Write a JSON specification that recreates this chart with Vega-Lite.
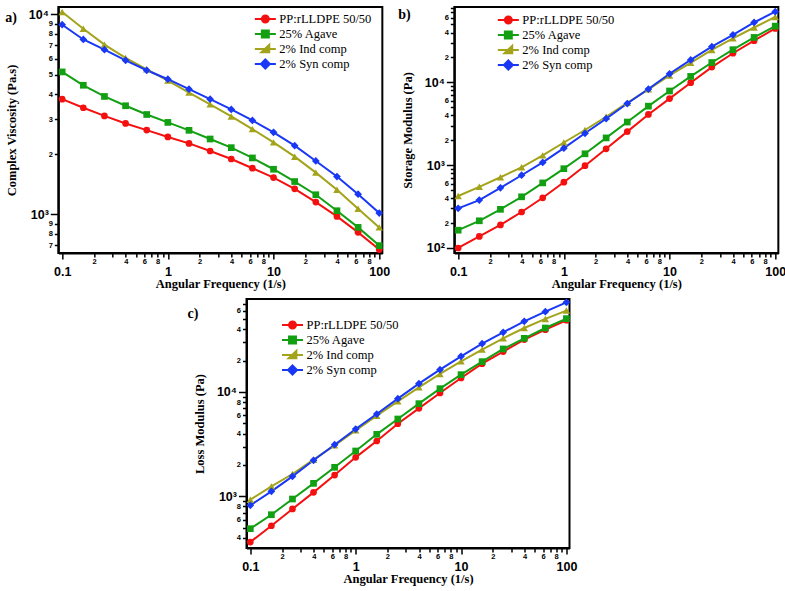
{
  "$schema": "https://vega.github.io/schema/vega-lite/v6.json",
  "padding": {"left": 4, "top": 2, "right": 0, "bottom": 3},
  "background": "white",
  "config": {
    "view": {"stroke": "black", "strokeWidth": 2},
    "axis": {
      "grid": false,
      "domainColor": "black",
      "domainWidth": 2,
      "tickColor": "black",
      "tickWidth": 1.5,
      "labelColor": "black",
      "labelFont": "Liberation Sans",
      "labelFontWeight": "bold",
      "titleFont": "Liberation Serif",
      "titleFontWeight": "bold",
      "titleFontSize": 12.5,
      "titleColor": "black"
    },
    "legend": {
      "orient": "none",
      "title": null,
      "labelFont": "Liberation Serif",
      "labelFontSize": 12.5,
      "labelColor": "black",
      "symbolSize": 144,
      "symbolStrokeWidth": 2,
      "labelOffset": 7,
      "rowPadding": -2,
      "padding": 0
    },
    "title": {
      "font": "Liberation Serif",
      "fontSize": 14,
      "fontWeight": "bold",
      "color": "black",
      "anchor": "start",
      "frame": "bounds",
      "offset": 0
    }
  },
  "datasets": {
    "visc": [
      {"w": 0.1, "s": "PP:rLLDPE 50/50", "v": 3770}, {"w": 0.1585, "s": "PP:rLLDPE 50/50", "v": 3415}, {"w": 0.2512, "s": "PP:rLLDPE 50/50", "v": 3110}, {"w": 0.3981, "s": "PP:rLLDPE 50/50", "v": 2850}, {"w": 0.631, "s": "PP:rLLDPE 50/50", "v": 2640}, {"w": 1, "s": "PP:rLLDPE 50/50", "v": 2440}, {"w": 1.585, "s": "PP:rLLDPE 50/50", "v": 2265}, {"w": 2.512, "s": "PP:rLLDPE 50/50", "v": 2075}, {"w": 3.981, "s": "PP:rLLDPE 50/50", "v": 1893}, {"w": 6.31, "s": "PP:rLLDPE 50/50", "v": 1702}, {"w": 10, "s": "PP:rLLDPE 50/50", "v": 1528}, {"w": 15.85, "s": "PP:rLLDPE 50/50", "v": 1342}, {"w": 25.12, "s": "PP:rLLDPE 50/50", "v": 1152}, {"w": 39.81, "s": "PP:rLLDPE 50/50", "v": 977}, {"w": 63.1, "s": "PP:rLLDPE 50/50", "v": 813}, {"w": 100, "s": "PP:rLLDPE 50/50", "v": 667},
      {"w": 0.1, "s": "25% Agave", "v": 5160}, {"w": 0.1585, "s": "25% Agave", "v": 4425}, {"w": 0.2512, "s": "25% Agave", "v": 3890}, {"w": 0.3981, "s": "25% Agave", "v": 3495}, {"w": 0.631, "s": "25% Agave", "v": 3160}, {"w": 1, "s": "25% Agave", "v": 2885}, {"w": 1.585, "s": "25% Agave", "v": 2633}, {"w": 2.512, "s": "25% Agave", "v": 2383}, {"w": 3.981, "s": "25% Agave", "v": 2157}, {"w": 6.31, "s": "25% Agave", "v": 1916}, {"w": 10, "s": "25% Agave", "v": 1682}, {"w": 15.85, "s": "25% Agave", "v": 1460}, {"w": 25.12, "s": "25% Agave", "v": 1254}, {"w": 39.81, "s": "25% Agave", "v": 1043}, {"w": 63.1, "s": "25% Agave", "v": 861}, {"w": 100, "s": "25% Agave", "v": 698},
      {"w": 0.1, "s": "2% Ind comp", "v": 10280}, {"w": 0.1585, "s": "2% Ind comp", "v": 8490}, {"w": 0.2512, "s": "2% Ind comp", "v": 7065}, {"w": 0.3981, "s": "2% Ind comp", "v": 6060}, {"w": 0.631, "s": "2% Ind comp", "v": 5320}, {"w": 1, "s": "2% Ind comp", "v": 4670}, {"w": 1.585, "s": "2% Ind comp", "v": 4070}, {"w": 2.512, "s": "2% Ind comp", "v": 3550}, {"w": 3.981, "s": "2% Ind comp", "v": 3090}, {"w": 6.31, "s": "2% Ind comp", "v": 2670}, {"w": 10, "s": "2% Ind comp", "v": 2293}, {"w": 15.85, "s": "2% Ind comp", "v": 1944}, {"w": 25.12, "s": "2% Ind comp", "v": 1618}, {"w": 39.81, "s": "2% Ind comp", "v": 1327}, {"w": 63.1, "s": "2% Ind comp", "v": 1067}, {"w": 100, "s": "2% Ind comp", "v": 861},
      {"w": 0.1, "s": "2% Syn comp", "v": 8890}, {"w": 0.1585, "s": "2% Syn comp", "v": 7500}, {"w": 0.2512, "s": "2% Syn comp", "v": 6665}, {"w": 0.3981, "s": "2% Syn comp", "v": 5900}, {"w": 0.631, "s": "2% Syn comp", "v": 5260}, {"w": 1, "s": "2% Syn comp", "v": 4745}, {"w": 1.585, "s": "2% Syn comp", "v": 4230}, {"w": 2.512, "s": "2% Syn comp", "v": 3770}, {"w": 3.981, "s": "2% Syn comp", "v": 3350}, {"w": 6.31, "s": "2% Syn comp", "v": 2950}, {"w": 10, "s": "2% Syn comp", "v": 2572}, {"w": 15.85, "s": "2% Syn comp", "v": 2206}, {"w": 25.12, "s": "2% Syn comp", "v": 1850}, {"w": 39.81, "s": "2% Syn comp", "v": 1546}, {"w": 63.1, "s": "2% Syn comp", "v": 1262}, {"w": 100, "s": "2% Syn comp", "v": 1015}
    ],
    "stor": [
      {"w": 0.1, "s": "PP:rLLDPE 50/50", "v": 100}, {"w": 0.1585, "s": "PP:rLLDPE 50/50", "v": 138}, {"w": 0.2512, "s": "PP:rLLDPE 50/50", "v": 190}, {"w": 0.3981, "s": "PP:rLLDPE 50/50", "v": 272}, {"w": 0.631, "s": "PP:rLLDPE 50/50", "v": 404}, {"w": 1, "s": "PP:rLLDPE 50/50", "v": 623}, {"w": 1.585, "s": "PP:rLLDPE 50/50", "v": 986}, {"w": 2.512, "s": "PP:rLLDPE 50/50", "v": 1577}, {"w": 3.981, "s": "PP:rLLDPE 50/50", "v": 2543}, {"w": 6.31, "s": "PP:rLLDPE 50/50", "v": 4100}, {"w": 10, "s": "PP:rLLDPE 50/50", "v": 6370}, {"w": 15.85, "s": "PP:rLLDPE 50/50", "v": 9910}, {"w": 25.12, "s": "PP:rLLDPE 50/50", "v": 15280}, {"w": 39.81, "s": "PP:rLLDPE 50/50", "v": 22480}, {"w": 63.1, "s": "PP:rLLDPE 50/50", "v": 31860}, {"w": 100, "s": "PP:rLLDPE 50/50", "v": 44760},
      {"w": 0.1, "s": "25% Agave", "v": 164}, {"w": 0.1585, "s": "25% Agave", "v": 213}, {"w": 0.2512, "s": "25% Agave", "v": 293}, {"w": 0.3981, "s": "25% Agave", "v": 415}, {"w": 0.631, "s": "25% Agave", "v": 611}, {"w": 1, "s": "25% Agave", "v": 907}, {"w": 1.585, "s": "25% Agave", "v": 1373}, {"w": 2.512, "s": "25% Agave", "v": 2134}, {"w": 3.981, "s": "25% Agave", "v": 3318}, {"w": 6.31, "s": "25% Agave", "v": 5160}, {"w": 10, "s": "25% Agave", "v": 7870}, {"w": 15.85, "s": "25% Agave", "v": 11800}, {"w": 25.12, "s": "25% Agave", "v": 17380}, {"w": 39.81, "s": "25% Agave", "v": 24830}, {"w": 63.1, "s": "25% Agave", "v": 34890}, {"w": 100, "s": "25% Agave", "v": 47750},
      {"w": 0.1, "s": "2% Ind comp", "v": 424}, {"w": 0.1585, "s": "2% Ind comp", "v": 548}, {"w": 0.2512, "s": "2% Ind comp", "v": 715}, {"w": 0.3981, "s": "2% Ind comp", "v": 942}, {"w": 0.631, "s": "2% Ind comp", "v": 1312}, {"w": 1, "s": "2% Ind comp", "v": 1878}, {"w": 1.585, "s": "2% Ind comp", "v": 2660}, {"w": 2.512, "s": "2% Ind comp", "v": 3845}, {"w": 3.981, "s": "2% Ind comp", "v": 5653}, {"w": 6.31, "s": "2% Ind comp", "v": 8240}, {"w": 10, "s": "2% Ind comp", "v": 12130}, {"w": 15.85, "s": "2% Ind comp", "v": 17190}, {"w": 25.12, "s": "2% Ind comp", "v": 24610}, {"w": 39.81, "s": "2% Ind comp", "v": 33950}, {"w": 63.1, "s": "2% Ind comp", "v": 45990}, {"w": 100, "s": "2% Ind comp", "v": 61650},
      {"w": 0.1, "s": "2% Syn comp", "v": 301}, {"w": 0.1585, "s": "2% Syn comp", "v": 379}, {"w": 0.2512, "s": "2% Syn comp", "v": 533}, {"w": 0.3981, "s": "2% Syn comp", "v": 756}, {"w": 0.631, "s": "2% Syn comp", "v": 1081}, {"w": 1, "s": "2% Syn comp", "v": 1606}, {"w": 1.585, "s": "2% Syn comp", "v": 2428}, {"w": 2.512, "s": "2% Syn comp", "v": 3637}, {"w": 3.981, "s": "2% Syn comp", "v": 5553}, {"w": 6.31, "s": "2% Syn comp", "v": 8315}, {"w": 10, "s": "2% Syn comp", "v": 12700}, {"w": 15.85, "s": "2% Syn comp", "v": 18680}, {"w": 25.12, "s": "2% Syn comp", "v": 26970}, {"w": 39.81, "s": "2% Syn comp", "v": 37560}, {"w": 63.1, "s": "2% Syn comp", "v": 52840}, {"w": 100, "s": "2% Syn comp", "v": 71450}
    ],
    "loss": [
      {"w": 0.1, "s": "PP:rLLDPE 50/50", "v": 365}, {"w": 0.1585, "s": "PP:rLLDPE 50/50", "v": 523}, {"w": 0.2512, "s": "PP:rLLDPE 50/50", "v": 757}, {"w": 0.3981, "s": "PP:rLLDPE 50/50", "v": 1092}, {"w": 0.631, "s": "PP:rLLDPE 50/50", "v": 1600}, {"w": 1, "s": "PP:rLLDPE 50/50", "v": 2364}, {"w": 1.585, "s": "PP:rLLDPE 50/50", "v": 3390}, {"w": 2.512, "s": "PP:rLLDPE 50/50", "v": 4970}, {"w": 3.981, "s": "PP:rLLDPE 50/50", "v": 6970}, {"w": 6.31, "s": "PP:rLLDPE 50/50", "v": 9780}, {"w": 10, "s": "PP:rLLDPE 50/50", "v": 13610}, {"w": 15.85, "s": "PP:rLLDPE 50/50", "v": 18690}, {"w": 25.12, "s": "PP:rLLDPE 50/50", "v": 24370}, {"w": 39.81, "s": "PP:rLLDPE 50/50", "v": 31760}, {"w": 63.1, "s": "PP:rLLDPE 50/50", "v": 39560}, {"w": 100, "s": "PP:rLLDPE 50/50", "v": 48670},
      {"w": 0.1, "s": "25% Agave", "v": 490}, {"w": 0.1585, "s": "25% Agave", "v": 667}, {"w": 0.2512, "s": "25% Agave", "v": 943}, {"w": 0.3981, "s": "25% Agave", "v": 1332}, {"w": 0.631, "s": "25% Agave", "v": 1898}, {"w": 1, "s": "25% Agave", "v": 2721}, {"w": 1.585, "s": "25% Agave", "v": 3930}, {"w": 2.512, "s": "25% Agave", "v": 5510}, {"w": 3.981, "s": "25% Agave", "v": 7730}, {"w": 6.31, "s": "25% Agave", "v": 10760}, {"w": 10, "s": "25% Agave", "v": 14660}, {"w": 15.85, "s": "25% Agave", "v": 19530}, {"w": 25.12, "s": "25% Agave", "v": 25840}, {"w": 39.81, "s": "25% Agave", "v": 32680}, {"w": 63.1, "s": "25% Agave", "v": 41030}, {"w": 100, "s": "25% Agave", "v": 50450},
      {"w": 0.1, "s": "2% Ind comp", "v": 929}, {"w": 0.1585, "s": "2% Ind comp", "v": 1247}, {"w": 0.2512, "s": "2% Ind comp", "v": 1637}, {"w": 0.3981, "s": "2% Ind comp", "v": 2246}, {"w": 0.631, "s": "2% Ind comp", "v": 3080}, {"w": 1, "s": "2% Ind comp", "v": 4290}, {"w": 1.585, "s": "2% Ind comp", "v": 5930}, {"w": 2.512, "s": "2% Ind comp", "v": 8140}, {"w": 3.981, "s": "2% Ind comp", "v": 11090}, {"w": 6.31, "s": "2% Ind comp", "v": 14890}, {"w": 10, "s": "2% Ind comp", "v": 19680}, {"w": 15.85, "s": "2% Ind comp", "v": 25470}, {"w": 25.12, "s": "2% Ind comp", "v": 32680}, {"w": 39.81, "s": "2% Ind comp", "v": 41030}, {"w": 63.1, "s": "2% Ind comp", "v": 50120}, {"w": 100, "s": "2% Ind comp", "v": 60260},
      {"w": 0.1, "s": "2% Syn comp", "v": 820}, {"w": 0.1585, "s": "2% Syn comp", "v": 1117}, {"w": 0.2512, "s": "2% Syn comp", "v": 1555}, {"w": 0.3981, "s": "2% Syn comp", "v": 2215}, {"w": 0.631, "s": "2% Syn comp", "v": 3127}, {"w": 1, "s": "2% Syn comp", "v": 4418}, {"w": 1.585, "s": "2% Syn comp", "v": 6150}, {"w": 2.512, "s": "2% Syn comp", "v": 8630}, {"w": 3.981, "s": "2% Syn comp", "v": 12020}, {"w": 6.31, "s": "2% Syn comp", "v": 16370}, {"w": 10, "s": "2% Syn comp", "v": 21970}, {"w": 15.85, "s": "2% Syn comp", "v": 29050}, {"w": 25.12, "s": "2% Syn comp", "v": 37330}, {"w": 39.81, "s": "2% Syn comp", "v": 47530}, {"w": 63.1, "s": "2% Syn comp", "v": 58880}, {"w": 100, "s": "2% Syn comp", "v": 72280}
    ]
  },
  "vconcat": [
    {
      "hconcat": [
        {
          "title": {"text": "a)", "dy": 22, "dx": 0},
          "width": 324, "height": 246,
          "data": {"name": "visc"},
          "encoding": {
            "x": {"field": "w", "type": "quantitative", "scale": {"type": "log", "domain": [0.092, 107], "nice": false},
              "axis": {"title": "Angular Frequency (1/s)", "values": [0.1,0.2,0.3,0.4,0.5,0.6,0.7,0.8,0.9,1,2,3,4,5,6,7,8,9,10,20,30,40,50,60,70,80,90,100],
                "labelExpr": "round(datum.value/pow(10,floor(log(datum.value)/LN10+0.000001)))==1 ? (datum.value<0.5?'0.1':toString(round(datum.value))) : (indexof([2,4,6,8], round(datum.value/pow(10,floor(log(datum.value)/LN10+0.000001))))>=0 ? toString(round(datum.value/pow(10,floor(log(datum.value)/LN10+0.000001)))) : '')",
                "labelFontSize": {"condition": {"test": "round(datum.value/pow(10,floor(log(datum.value)/LN10+0.000001)))==1", "value": 12.5}, "value": 7.5},
                "labelPadding": {"condition": {"test": "round(datum.value/pow(10,floor(log(datum.value)/LN10+0.000001)))==1", "value": 6}, "value": 0},
                "tickSize": {"condition": {"test": "round(datum.value/pow(10,floor(log(datum.value)/LN10+0.000001)))==1", "value": 6}, "value": 4},
                "labelFlush": false, "labelOverlap": false, "titlePadding": 0}},
            "y": {"field": "v", "type": "quantitative", "scale": {"type": "log", "domain": [641, 10900], "nice": false},
              "axis": {"title": "Complex Viscosity (Pa.s)", "values": [700,800,900,1000,2000,3000,4000,5000,6000,7000,8000,9000,10000],
                "labelExpr": "datum.value==1000?'10³':datum.value==10000?'10⁴':toString(round(datum.value/pow(10,floor(log(datum.value)/LN10+0.000001))))",
                "labelFontSize": {"condition": {"test": "round(datum.value/pow(10,floor(log(datum.value)/LN10+0.000001)))==1", "value": 12.5}, "value": 7.5},
                "tickSize": {"condition": {"test": "round(datum.value/pow(10,floor(log(datum.value)/LN10+0.000001)))==1", "value": 8}, "value": 4},
                "labelPadding": 2, "labelFlush": false, "labelOverlap": false, "titlePadding": 10}}
          },
          "layer": [
            {"mark": {"type": "line", "strokeWidth": 2},
              "encoding": {"color": {"field": "s", "type": "nominal", "sort": ["PP:rLLDPE 50/50", "25% Agave", "2% Ind comp", "2% Syn comp"],
                "scale": {"domain": ["PP:rLLDPE 50/50", "25% Agave", "2% Ind comp", "2% Syn comp"], "range": ["#f51010", "#12a012", "#a3a31c", "#1838f5"]},
                "legend": {"legendX": 200, "legendY": 5,
                  "encode": {"symbols": {"update": {
                    "shape": {"signal": "datum.value=='PP:rLLDPE 50/50'?'M-1.75,0H1.75M0.58,0A0.58,0.58,0,1,1,-0.58,0A0.58,0.58,0,1,1,0.58,0Z':datum.value=='25% Agave'?'M-1.75,0H1.75M-0.58,-0.58H0.58V0.58H-0.58Z':datum.value=='2% Ind comp'?'M-1.75,0H1.75M-0.65,0.55H0.65V-0.7Z':'M-1.75,0H1.75M0,-0.75L0.75,0L0,0.75L-0.75,0Z'"},
                    "fill": {"signal": "datum.value=='PP:rLLDPE 50/50'?'#f51010':datum.value=='25% Agave'?'#12a012':datum.value=='2% Ind comp'?'#a3a31c':'#1838f5'"}}}}}}}},
            {"transform": [{"filter": "datum.s=='PP:rLLDPE 50/50'"}], "mark": {"type": "point", "shape": "circle", "filled": true, "opacity": 1, "size": 45},
              "encoding": {"color": {"field": "s", "type": "nominal", "legend": null}}},
            {"transform": [{"filter": "datum.s=='25% Agave'"}], "mark": {"type": "point", "shape": "square", "filled": true, "opacity": 1, "size": 45},
              "encoding": {"color": {"field": "s", "type": "nominal", "legend": null}}},
            {"transform": [{"filter": "datum.s=='2% Ind comp'"}], "mark": {"type": "point", "shape": "triangle-up", "filled": true, "opacity": 1, "size": 55},
              "encoding": {"color": {"field": "s", "type": "nominal", "legend": null}}},
            {"transform": [{"filter": "datum.s=='2% Syn comp'"}], "mark": {"type": "point", "shape": "diamond", "filled": true, "opacity": 1, "size": 60},
              "encoding": {"color": {"field": "s", "type": "nominal", "legend": null}}}
          ]
        },
        {
          "title": {"text": "b)", "dy": 22, "dx": -3},
          "width": 324, "height": 246,
          "data": {"name": "stor"},
          "encoding": {
            "x": {"field": "w", "type": "quantitative", "scale": {"type": "log", "domain": [0.092, 107], "nice": false},
              "axis": {"title": "Angular Frequency (1/s)", "values": [0.1,0.2,0.3,0.4,0.5,0.6,0.7,0.8,0.9,1,2,3,4,5,6,7,8,9,10,20,30,40,50,60,70,80,90,100],
                "labelExpr": "round(datum.value/pow(10,floor(log(datum.value)/LN10+0.000001)))==1 ? (datum.value<0.5?'0.1':toString(round(datum.value))) : (indexof([2,4,6,8], round(datum.value/pow(10,floor(log(datum.value)/LN10+0.000001))))>=0 ? toString(round(datum.value/pow(10,floor(log(datum.value)/LN10+0.000001)))) : '')",
                "labelFontSize": {"condition": {"test": "round(datum.value/pow(10,floor(log(datum.value)/LN10+0.000001)))==1", "value": 12.5}, "value": 7.5},
                "labelPadding": {"condition": {"test": "round(datum.value/pow(10,floor(log(datum.value)/LN10+0.000001)))==1", "value": 6}, "value": 0},
                "tickSize": {"condition": {"test": "round(datum.value/pow(10,floor(log(datum.value)/LN10+0.000001)))==1", "value": 6}, "value": 4},
                "labelFlush": false, "labelOverlap": false, "titlePadding": 0}},
            "y": {"field": "v", "type": "quantitative", "scale": {"type": "log", "domain": [87, 81300], "nice": false},
              "axis": {"title": "Storage Modulus (Pa)", "values": [100,200,300,400,500,600,700,800,900,1000,2000,3000,4000,5000,6000,7000,8000,9000,10000,20000,30000,40000,50000,60000,70000,80000],
                "labelExpr": "datum.value==100?'10²':datum.value==1000?'10³':datum.value==10000?'10⁴':(indexof([2,4,6], round(datum.value/pow(10,floor(log(datum.value)/LN10+0.000001))))>=0 ? toString(round(datum.value/pow(10,floor(log(datum.value)/LN10+0.000001)))) : '')",
                "labelFontSize": {"condition": {"test": "round(datum.value/pow(10,floor(log(datum.value)/LN10+0.000001)))==1", "value": 12.5}, "value": 7.5},
                "tickSize": {"condition": {"test": "round(datum.value/pow(10,floor(log(datum.value)/LN10+0.000001)))==1", "value": 8}, "value": 4},
                "labelPadding": 2, "labelFlush": false, "labelOverlap": false, "titlePadding": 10}}
          },
          "layer": [
            {"mark": {"type": "line", "strokeWidth": 2},
              "encoding": {"color": {"field": "s", "type": "nominal", "sort": ["PP:rLLDPE 50/50", "25% Agave", "2% Ind comp", "2% Syn comp"],
                "scale": {"domain": ["PP:rLLDPE 50/50", "25% Agave", "2% Ind comp", "2% Syn comp"], "range": ["#f51010", "#12a012", "#a3a31c", "#1838f5"]},
                "legend": {"legendX": 47, "legendY": 6,
                  "encode": {"symbols": {"update": {
                    "shape": {"signal": "datum.value=='PP:rLLDPE 50/50'?'M-1.75,0H1.75M0.58,0A0.58,0.58,0,1,1,-0.58,0A0.58,0.58,0,1,1,0.58,0Z':datum.value=='25% Agave'?'M-1.75,0H1.75M-0.58,-0.58H0.58V0.58H-0.58Z':datum.value=='2% Ind comp'?'M-1.75,0H1.75M-0.65,0.55H0.65V-0.7Z':'M-1.75,0H1.75M0,-0.75L0.75,0L0,0.75L-0.75,0Z'"},
                    "fill": {"signal": "datum.value=='PP:rLLDPE 50/50'?'#f51010':datum.value=='25% Agave'?'#12a012':datum.value=='2% Ind comp'?'#a3a31c':'#1838f5'"}}}}}}}},
            {"transform": [{"filter": "datum.s=='PP:rLLDPE 50/50'"}], "mark": {"type": "point", "shape": "circle", "filled": true, "opacity": 1, "size": 45},
              "encoding": {"color": {"field": "s", "type": "nominal", "legend": null}}},
            {"transform": [{"filter": "datum.s=='25% Agave'"}], "mark": {"type": "point", "shape": "square", "filled": true, "opacity": 1, "size": 45},
              "encoding": {"color": {"field": "s", "type": "nominal", "legend": null}}},
            {"transform": [{"filter": "datum.s=='2% Ind comp'"}], "mark": {"type": "point", "shape": "triangle-up", "filled": true, "opacity": 1, "size": 55},
              "encoding": {"color": {"field": "s", "type": "nominal", "legend": null}}},
            {"transform": [{"filter": "datum.s=='2% Syn comp'"}], "mark": {"type": "point", "shape": "diamond", "filled": true, "opacity": 1, "size": 60},
              "encoding": {"color": {"field": "s", "type": "nominal", "legend": null}}}
          ]
        }
      ],
      "spacing": 5,
      "resolve": {"scale": {"color": "independent", "x": "independent", "y": "independent"}, "legend": {"color": "independent"}}
    },
    {
      "hconcat": [
        {
          "title": {"text": "c)", "dy": 27, "dx": -6},
          "width": 323, "height": 249,
          "data": {"name": "loss"},
          "encoding": {
            "x": {"field": "w", "type": "quantitative", "scale": {"type": "log", "domain": [0.092, 107], "nice": false},
              "axis": {"title": "Angular Frequency (1/s)", "values": [0.1,0.2,0.3,0.4,0.5,0.6,0.7,0.8,0.9,1,2,3,4,5,6,7,8,9,10,20,30,40,50,60,70,80,90,100],
                "labelExpr": "round(datum.value/pow(10,floor(log(datum.value)/LN10+0.000001)))==1 ? (datum.value<0.5?'0.1':toString(round(datum.value))) : (indexof([2,4,6,8], round(datum.value/pow(10,floor(log(datum.value)/LN10+0.000001))))>=0 ? toString(round(datum.value/pow(10,floor(log(datum.value)/LN10+0.000001)))) : '')",
                "labelFontSize": {"condition": {"test": "round(datum.value/pow(10,floor(log(datum.value)/LN10+0.000001)))==1", "value": 12.5}, "value": 7.5},
                "labelPadding": {"condition": {"test": "round(datum.value/pow(10,floor(log(datum.value)/LN10+0.000001)))==1", "value": 6}, "value": 0},
                "tickSize": {"condition": {"test": "round(datum.value/pow(10,floor(log(datum.value)/LN10+0.000001)))==1", "value": 6}, "value": 4},
                "labelFlush": false, "labelOverlap": false, "titlePadding": 0}},
            "y": {"field": "v", "type": "quantitative", "scale": {"type": "log", "domain": [320, 77800], "nice": false},
              "axis": {"title": "Loss Modulus (Pa)", "values": [400,500,600,700,800,900,1000,2000,3000,4000,5000,6000,7000,8000,9000,10000,20000,30000,40000,50000,60000,70000],
                "labelExpr": "datum.value==1000?'10³':datum.value==10000?'10⁴':(indexof([2,4,6,8], round(datum.value/pow(10,floor(log(datum.value)/LN10+0.000001))))>=0 ? toString(round(datum.value/pow(10,floor(log(datum.value)/LN10+0.000001)))) : '')",
                "labelFontSize": {"condition": {"test": "round(datum.value/pow(10,floor(log(datum.value)/LN10+0.000001)))==1", "value": 12.5}, "value": 7.5},
                "tickSize": {"condition": {"test": "round(datum.value/pow(10,floor(log(datum.value)/LN10+0.000001)))==1", "value": 8}, "value": 4},
                "labelPadding": 2, "labelFlush": false, "labelOverlap": false, "titlePadding": 10}}
          },
          "layer": [
            {"mark": {"type": "line", "strokeWidth": 2},
              "encoding": {"color": {"field": "s", "type": "nominal", "sort": ["PP:rLLDPE 50/50", "25% Agave", "2% Ind comp", "2% Syn comp"],
                "scale": {"domain": ["PP:rLLDPE 50/50", "25% Agave", "2% Ind comp", "2% Syn comp"], "range": ["#f51010", "#12a012", "#a3a31c", "#1838f5"]},
                "legend": {"legendX": 39, "legendY": 19,
                  "encode": {"symbols": {"update": {
                    "shape": {"signal": "datum.value=='PP:rLLDPE 50/50'?'M-1.75,0H1.75M0.58,0A0.58,0.58,0,1,1,-0.58,0A0.58,0.58,0,1,1,0.58,0Z':datum.value=='25% Agave'?'M-1.75,0H1.75M-0.58,-0.58H0.58V0.58H-0.58Z':datum.value=='2% Ind comp'?'M-1.75,0H1.75M-0.65,0.55H0.65V-0.7Z':'M-1.75,0H1.75M0,-0.75L0.75,0L0,0.75L-0.75,0Z'"},
                    "fill": {"signal": "datum.value=='PP:rLLDPE 50/50'?'#f51010':datum.value=='25% Agave'?'#12a012':datum.value=='2% Ind comp'?'#a3a31c':'#1838f5'"}}}}}}}},
            {"transform": [{"filter": "datum.s=='PP:rLLDPE 50/50'"}], "mark": {"type": "point", "shape": "circle", "filled": true, "opacity": 1, "size": 45},
              "encoding": {"color": {"field": "s", "type": "nominal", "legend": null}}},
            {"transform": [{"filter": "datum.s=='25% Agave'"}], "mark": {"type": "point", "shape": "square", "filled": true, "opacity": 1, "size": 45},
              "encoding": {"color": {"field": "s", "type": "nominal", "legend": null}}},
            {"transform": [{"filter": "datum.s=='2% Ind comp'"}], "mark": {"type": "point", "shape": "triangle-up", "filled": true, "opacity": 1, "size": 55},
              "encoding": {"color": {"field": "s", "type": "nominal", "legend": null}}},
            {"transform": [{"filter": "datum.s=='2% Syn comp'"}], "mark": {"type": "point", "shape": "diamond", "filled": true, "opacity": 1, "size": 60},
              "encoding": {"color": {"field": "s", "type": "nominal", "legend": null}}}
          ]
        },
        {
          "width": 20, "height": 10,
          "view": {"stroke": null},
          "data": {"values": []},
          "mark": {"type": "point", "opacity": 0},
          "encoding": {}
        }
      ],
      "spacing": 0,
      "resolve": {"scale": {"color": "independent", "x": "independent", "y": "independent"}, "legend": {"color": "independent"}}
    }
  ],
  "spacing": 6,
  "center": true,
  "resolve": {"scale": {"color": "independent", "x": "independent", "y": "independent"}, "legend": {"color": "independent"}}
}
